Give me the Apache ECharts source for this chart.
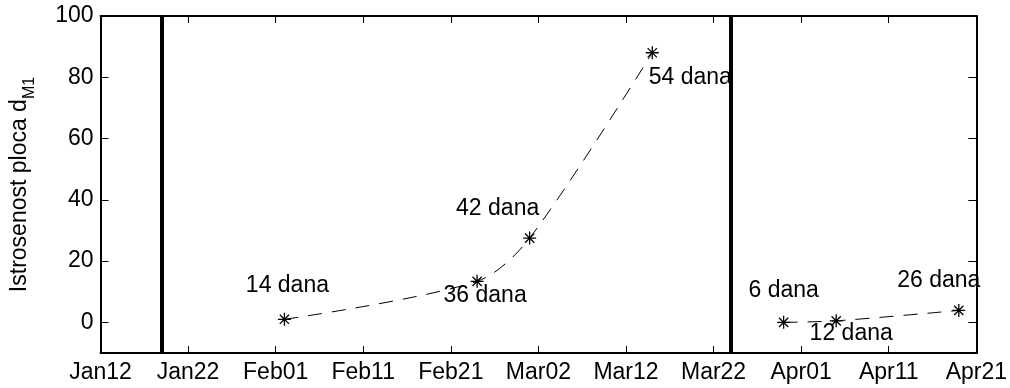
<!DOCTYPE html>
<html>
<head>
<meta charset="utf-8">
<script src="https://cdn.jsdelivr.net/npm/echarts@6/dist/echarts.min.js"></script>
<style>
    html, body { margin: 0; padding: 0; background: #fff; }
    #chart { width: 1010px; height: 388px; }
</style>
</head>
<body>
<div id="chart"></div>
<script>
    // dates are 2012 (leap year: Feb21 -> Mar02 is 10 days)
    var startDate = '2012-01-12';
    var xTickLabels = ['Jan12', 'Jan22', 'Feb01', 'Feb11', 'Feb21', 'Mar02', 'Mar12', 'Mar22', 'Apr01', 'Apr11', 'Apr21'];
    var yTicks = [0, 20, 40, 60, 80, 100];

    var boundaryDates = ['2012-01-19', '2012-03-24'];

    var firstDates = ['2012-02-02', '2012-02-24', '2012-03-01', '2012-03-15'];
    var firstValues = [1, 13.4, 27.5, 88];
    var firstLabels = ['14 dana', '36 dana', '42 dana', '54 dana'];

    var secondDates = ['2012-03-30', '2012-04-05', '2012-04-19'];
    var secondValues = [0, 0.5, 3.9];
    var secondLabels = ['6 dana', '12 dana', '26 dana'];

    // label placement relative to the marker (px)
    var firstOffsets = [[3, -34], [8, 14], [-32, -29], [38, 25]];
    var secondOffsets = [[0, -32], [15, 13], [-20, -30]];

    var font = '"Liberation Sans", Arial, Helvetica, sans-serif';
    var asterisk = 'path://M0 4.5L10 4.5L10 5.5L0 5.5Z M4.5 0L5.5 0L5.5 10L4.5 10Z ' +
        'M1.1 1.8L1.8 1.1L8.9 8.2L8.2 8.9Z M8.2 1.1L8.9 1.8L1.8 8.9L1.1 8.2Z';

    function dayOf(s) {
        return (Date.parse(s) - Date.parse(startDate)) / 86400000;
    }

    function buildPoints(dates, values, labels, offsets) {
        return dates.map(function(d, i) {
            return {
                value: [dayOf(d), values[i]],
                label: { formatter: labels[i], offset: offsets[i] }
            };
        });
    }

    function lineSeries(data) {
        return {
            type: 'line',
            data: data,
            smooth: 0.3,
            symbol: asterisk,
            symbolSize: 13,
            itemStyle: { color: '#000' },
            lineStyle: { color: '#000', width: 1, type: [14, 10] },
            label: {
                show: true,
                position: 'inside',
                align: 'center',
                verticalAlign: 'middle',
                color: '#000',
                fontSize: 23,
                fontFamily: font
            },
            emphasis: { disabled: true },
            z: 3
        };
    }

    var myChart = echarts.init(document.getElementById('chart'));

    var xBase = {
        type: 'value',
        min: 0,
        max: 100,
        interval: 10,
        splitLine: { show: false },
        axisLine: { onZero: false, lineStyle: { color: '#000', width: 2 } },
        axisTick: { inside: true, length: 7, lineStyle: { color: '#000', width: 1 } }
    };
    var yBase = {
        type: 'value',
        min: -10,
        max: 100,
        splitLine: { show: false },
        axisLine: { show: true, onZero: false, lineStyle: { color: '#000', width: 2 } },
        axisTick: { show: true, inside: true, length: 8, customValues: yTicks, lineStyle: { color: '#000', width: 1 } }
    };

    var option = {
        animation: false,
        backgroundColor: '#fff',
        grid: { left: 99, right: 31, top: 16, bottom: 35 },
        xAxis: [
            Object.assign({}, xBase, {
                position: 'bottom',
                axisLabel: {
                    color: '#000',
                    fontSize: 23,
                    fontFamily: font,
                    margin: 8,
                    formatter: function(v) { return xTickLabels[Math.round(v / 10)]; }
                }
            }),
            Object.assign({}, xBase, { position: 'top', axisLabel: { show: false } })
        ],
        yAxis: [
            Object.assign({}, yBase, {
                position: 'left',
                name: '{m|Istrosenost ploca d}{s|M1}',
                nameLocation: 'middle',
                nameGap: 63,
                nameTextStyle: {
                    color: '#000',
                    fontFamily: font,
                    rich: {
                        m: { fontSize: 23, fontFamily: font, color: '#000' },
                        s: { fontSize: 16, fontFamily: font, color: '#000', padding: [20, 0, 0, 0] }
                    }
                },
                axisLabel: {
                    color: '#000',
                    fontSize: 23,
                    fontFamily: font,
                    margin: 7,
                    customValues: yTicks
                }
            }),
            Object.assign({}, yBase, { position: 'right', axisLabel: { show: false } })
        ],
        series: [
            Object.assign(lineSeries(buildPoints(firstDates, firstValues, firstLabels, firstOffsets)), {
                markLine: {
                    silent: true,
                    symbol: 'none',
                    label: { show: false },
                    lineStyle: { color: '#000', width: 4, type: 'solid' },
                    data: boundaryDates.map(function(d) { return { xAxis: dayOf(d) }; })
                }
            }),
            lineSeries(buildPoints(secondDates, secondValues, secondLabels, secondOffsets))
        ]
    };
    myChart.setOption(option);

    window.addEventListener('resize', function() {
        myChart.resize();
    });
</script>
</body>
</html>
